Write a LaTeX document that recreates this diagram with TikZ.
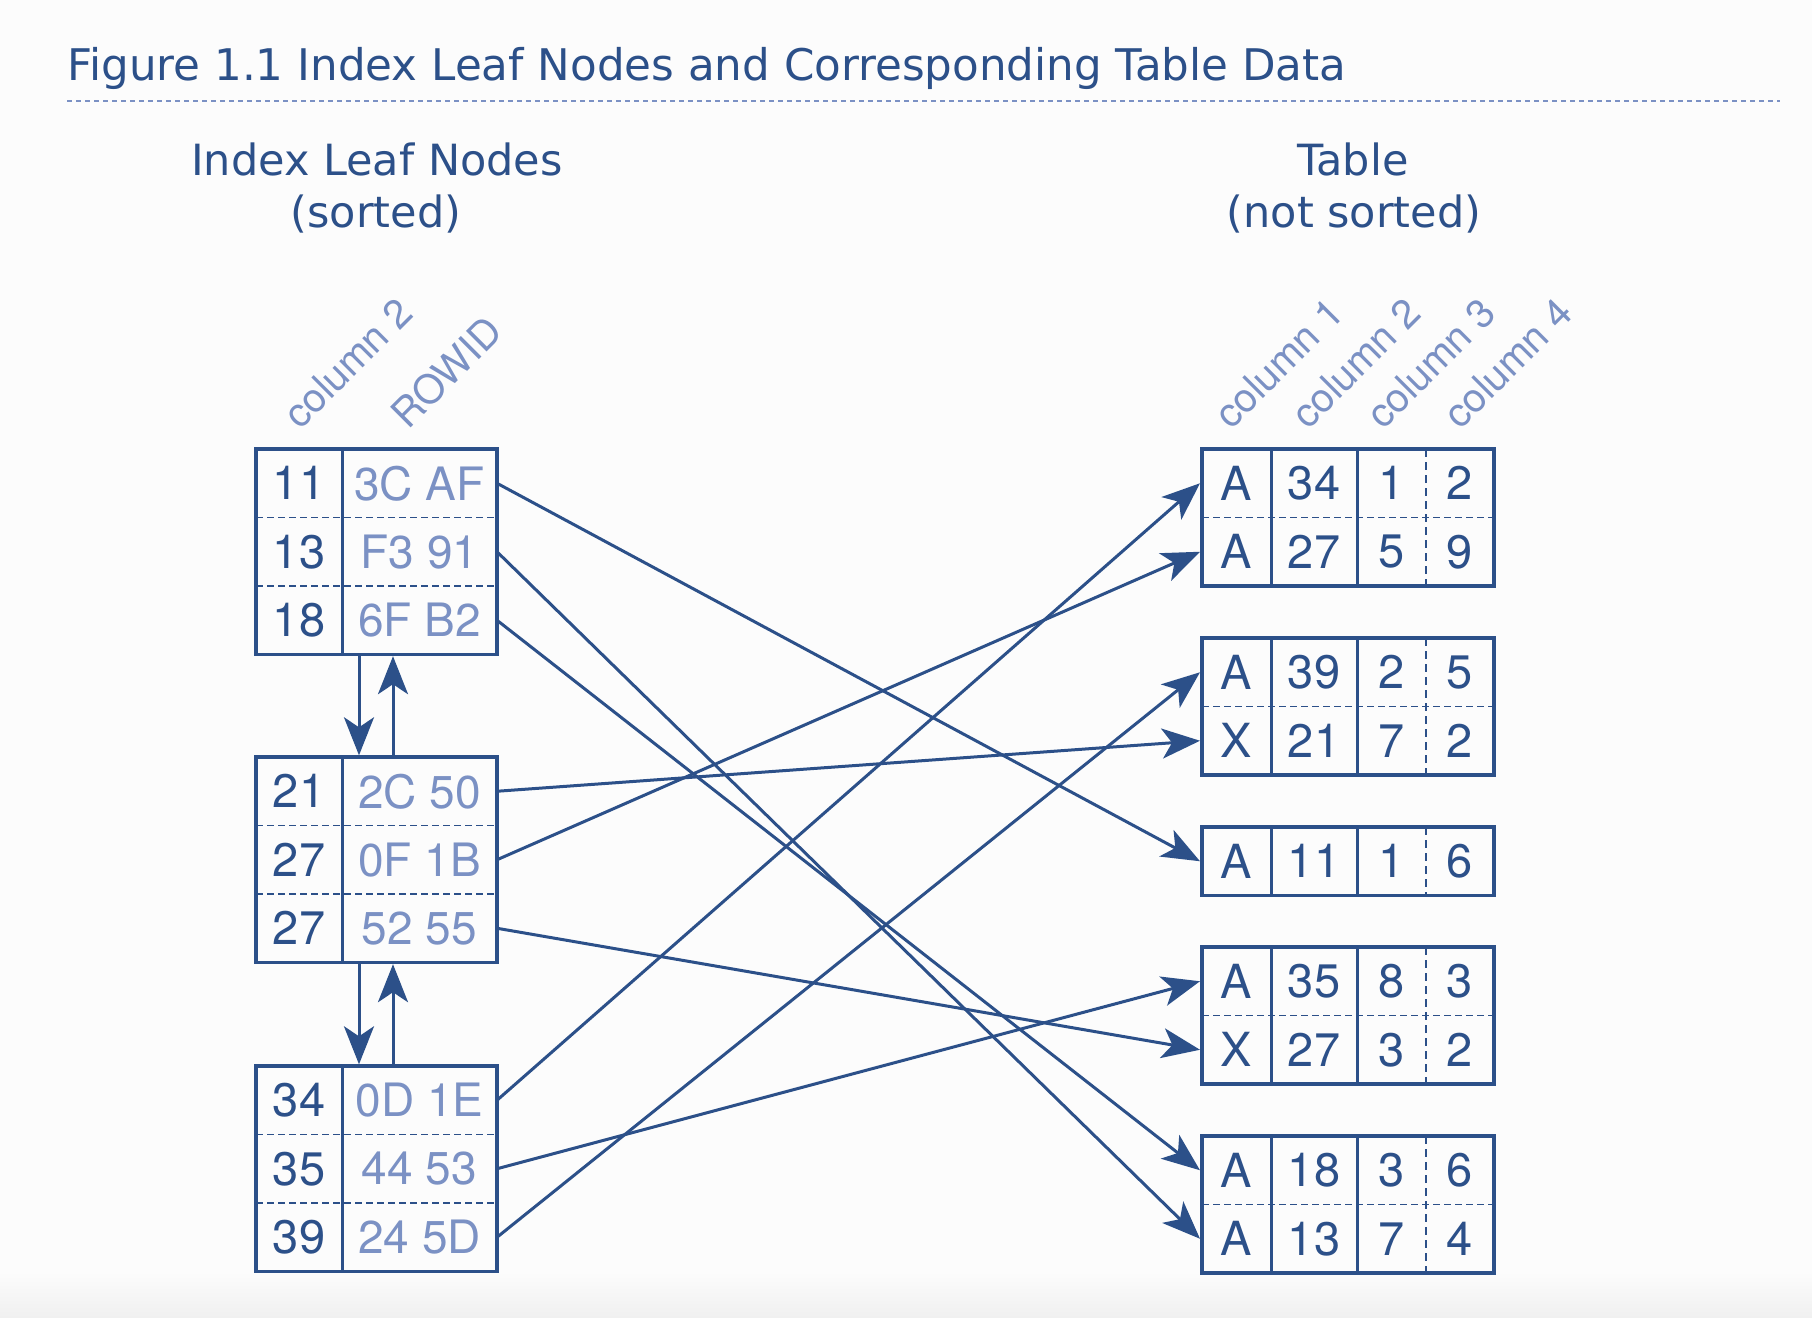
\documentclass[tikz,border=0pt]{standalone}
\usepackage{fontspec}
\setmainfont{TeX Gyre Heros}
\newfontfamily\verd{DejaVu Sans}
\usetikzlibrary{arrows.meta}
\definecolor{dkblue}{HTML}{2C5089}
\definecolor{ltblue}{HTML}{7B91C4}
\definecolor{bgc}{HTML}{FCFCFC}
\newcommand{\lrow}[4]{%
  \node[numtxt] (k#1) at (299,#2) {#3};
  \node[hextxt] (h#1) at (419.5,#2) {#4};
  \coordinate (s#1) at (497,#2);}
\newcommand{\rrow}[6]{%
  \node[numtxt] (a#1) at (1236.5,#2) {#3};
  \node[numtxt] (b#1) at (1314,#2) {#4};
  \node[numtxt] (c#1) at (1391.5,#2) {#5};
  \node[numtxt] (e#1) at (1460,#2) {#6};
  \coordinate (t#1) at (1200,#2);}
\begin{document}
\begin{tikzpicture}[x=0.5pt,y=-0.5pt,
  numtxt/.style={text=dkblue,inner sep=0pt,font=\fontsize{23.5pt}{26pt}\selectfont},
  hextxt/.style={text=ltblue,inner sep=0pt,font=\fontsize{23pt}{26pt}\selectfont},
  headtxt/.style={text=dkblue,inner sep=0pt,anchor=base,font=\verd\fontsize{21.5pt}{26pt}\selectfont},
  collab/.style={text=ltblue,inner sep=0pt,anchor=base west,rotate=45,font=\fontsize{20pt}{22pt}\selectfont},
  lbox/.style={draw=dkblue,line width=1.7pt,minimum width=120.5pt,minimum height=102.75pt,inner sep=0pt},
  rbox2/.style={draw=dkblue,line width=1.7pt,minimum width=146pt,minimum height=68.5pt,inner sep=0pt},
  rbox1/.style={draw=dkblue,line width=1.7pt,minimum width=146pt,minimum height=34.25pt,inner sep=0pt},
  soliddiv/.style={draw=dkblue,line width=1.5pt},
  hdash/.style={draw=dkblue,line width=0.75pt,dash pattern=on 3.5pt off 2pt},
  vdash/.style={draw=dkblue,line width=1.3pt,dash pattern=on 4pt off 2.5pt},
  conn/.style={draw=dkblue,line width=1.5pt,-{Stealth[length=19pt,width=15pt,inset=5pt]}}]
\useasboundingbox (0,0) rectangle (1812,1318);
\fill[bgc] (0,0) rectangle (1812,1318);
\shade[top color=bgc,bottom color=black!6] (0,1272) rectangle (1812,1318);
% title
\node[headtxt,anchor=base west,font=\verd\fontsize{21.8pt}{26pt}\selectfont] (title) at (67,80) {Figure 1.1 Index Leaf Nodes and Corresponding Table Data};
\draw[ltblue,line width=1pt,dash pattern=on 2.5pt off 2pt] (67,101) -- (1780,101);
% headings
\node[headtxt] (hl1) at (377,175) {Index Leaf Nodes};
\node[headtxt] (hl2) at (376,227) {(sorted)};
\node[headtxt] (hr1) at (1353,175) {Table};
\node[headtxt] (hr2) at (1354,227) {(not sorted)};
% column labels
\node[collab] (cl1) at (300,431) {column 2};
\node[collab] (cl2) at (408,431) {ROWID};
\node[collab] (cr1) at (1231,431) {column 1};
\node[collab] (cr2) at (1308,431) {column 2};
\node[collab] (cr3) at (1383,431) {column 3};
\node[collab] (cr4) at (1460,431) {column 4};
% left boxes
\foreach \t/\n in {449/L1,757/L2,1066/L3}{
  \draw[hdash] (256,\t+68.5) -- (497,\t+68.5);
  \draw[hdash] (256,\t+137) -- (497,\t+137);
  \draw[soliddiv] (342,\t) -- (342,\t+205.5);
  \node[lbox] (\n) at (376.5,\t+102.75) {};
}
\lrow{1}{483.25}{11}{3C AF}
\lrow{2}{551.75}{13}{F3 91}
\lrow{3}{620.25}{18}{6F B2}
\lrow{4}{791.25}{21}{2C 50}
\lrow{5}{859.75}{27}{0F 1B}
\lrow{6}{928.25}{27}{52 55}
\lrow{7}{1100.25}{34}{0D 1E}
\lrow{8}{1168.75}{35}{44 53}
\lrow{9}{1237.25}{39}{24 5D}
% right boxes
\foreach \t/\n in {449/R1,638/R2,947/R4,1136/R5}{
  \draw[hdash] (1202,\t+68.5) -- (1494,\t+68.5);
  \draw[soliddiv] (1271,\t) -- (1271,\t+137);
  \draw[soliddiv] (1357,\t) -- (1357,\t+137);
  \draw[vdash] (1426,\t) -- (1426,\t+137);
  \node[rbox2] (\n) at (1348,\t+68.5) {};
}
\draw[soliddiv] (1271,827) -- (1271,895.5);
\draw[soliddiv] (1357,827) -- (1357,895.5);
\draw[vdash] (1426,827) -- (1426,895.5);
\node[rbox1] (R3) at (1348,861.25) {};
\rrow{1a}{483.25}{A}{34}{1}{2}
\rrow{1b}{551.75}{A}{27}{5}{9}
\rrow{2a}{672.25}{A}{39}{2}{5}
\rrow{2b}{740.75}{X}{21}{7}{2}
\rrow{3}{861.25}{A}{11}{1}{6}
\rrow{4a}{981.25}{A}{35}{8}{3}
\rrow{4b}{1049.75}{X}{27}{3}{2}
\rrow{5a}{1170.25}{A}{18}{3}{6}
\rrow{5b}{1238.75}{A}{13}{7}{4}
% leaf chain arrows
\coordinate (dn) at (359,0);
\coordinate (up) at (393,0);
\draw[conn] (L1.south -| dn) -- (L2.north -| dn);
\draw[conn] (L2.north -| up) -- (L1.south -| up);
\draw[conn] (L2.south -| dn) -- (L3.north -| dn);
\draw[conn] (L3.north -| up) -- (L2.south -| up);
% row pointers
\draw[conn] (s1) -- (t3);
\draw[conn] (s2) -- (t5b);
\draw[conn] (s3) -- (t5a);
\draw[conn] (s4) -- (t2b);
\draw[conn] (s5) -- (t1b);
\draw[conn] (s6) -- (t4b);
\draw[conn] (s7) -- (t1a);
\draw[conn] (s8) -- (t4a);
\draw[conn] (s9) -- (t2a);
\end{tikzpicture}
\end{document}
